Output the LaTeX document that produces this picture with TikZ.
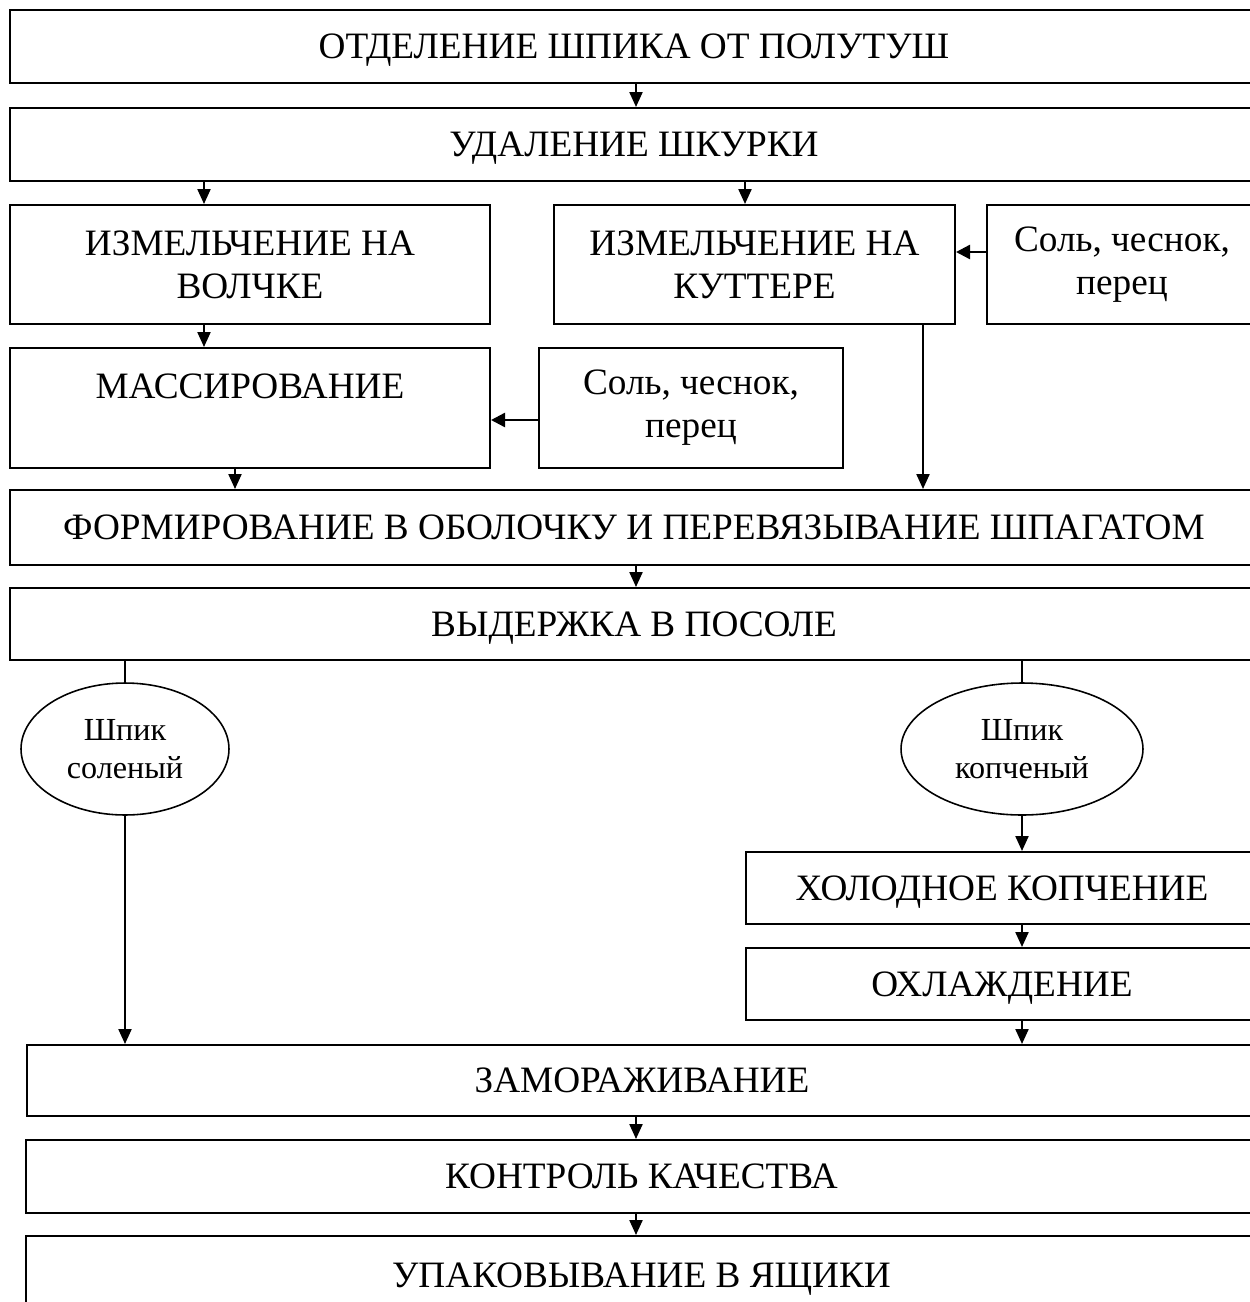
\documentclass[tikz,border=0pt]{standalone}
\usepackage{fontspec}
\setmainfont{Liberation Serif}
\usetikzlibrary{arrows.meta,shapes.geometric}

\begin{document}
\begin{tikzpicture}[x=0.02cm, y=-0.02cm,
  box/.style={draw, line width=1.2pt, align=center, inner sep=0pt,
    font=\fontsize{21.2}{24.5}\selectfont},
  wide/.style={box, text depth=0pt},
  oval/.style={draw, ellipse, line width=0.9pt, align=center, inner sep=0pt,
    font=\fontsize{18.3}{21.5}\selectfont},
  arr/.style={line width=0.9pt, -{Triangle[length=8.5pt,width=7.5pt]}},
  harr/.style={line width=1.4pt, -{Triangle[length=8pt,width=8pt]}},
  ln/.style={line width=0.9pt}]
\clip (0,0) rectangle (1250,1302);
\fill[white] (0,0) rectangle (1250,1302);

% верхние операции
\node[wide, minimum width=24.96cm, minimum height=1.46cm] (otd) at (634,46.5) {ОТДЕЛЕНИЕ ШПИКА ОТ ПОЛУТУШ};
\node[wide, minimum width=24.96cm, minimum height=1.46cm] (ud) at (634,144.5) {УДАЛЕНИЕ ШКУРКИ};

% два пути измельчения
\node[box, minimum width=9.6cm, minimum height=2.38cm] (volch) at (250,264.5) {ИЗМЕЛЬЧЕНИЕ НА\\ ВОЛЧКЕ};
\node[box, minimum width=8.02cm, minimum height=2.38cm] (kut) at (754.5,264.5) {ИЗМЕЛЬЧЕНИЕ НА\\ КУТТЕРЕ};
\node[box, minimum width=5.4cm, minimum height=2.38cm] (salt1) at (1122,264.5) {Соль, чеснок,\\ перец};
\node[box, minimum width=9.6cm, minimum height=2.4cm] (mass) at (250,408) {МАССИРОВАНИЕ\\ \mbox{}};
\node[box, minimum width=6.08cm, minimum height=2.4cm] (salt2) at (691,408) {Соль, чеснок,\\ перец};

\node[wide, minimum width=24.96cm, minimum height=1.5cm] (form) at (634,527.5) {ФОРМИРОВАНИЕ В ОБОЛОЧКУ И ПЕРЕВЯЗЫВАНИЕ ШПАГАТОМ};
\node[wide, minimum width=24.96cm, minimum height=1.44cm] (vyd) at (634,624) {ВЫДЕРЖКА В ПОСОЛЕ};

% виды шпика
\node[oval, minimum width=4.16cm, minimum height=2.64cm] (sol) at (125,749) {Шпик\\ соленый};
\node[oval, minimum width=4.84cm, minimum height=2.64cm] (kop) at (1022,749) {Шпик\\ копченый};

\node[wide, minimum width=10.24cm, minimum height=1.44cm] (hol) at (1002,888) {ХОЛОДНОЕ КОПЧЕНИЕ};
\node[wide, minimum width=10.24cm, minimum height=1.44cm] (ohl) at (1002,984) {ОХЛАЖДЕНИЕ};

% заключительные операции
\node[wide, minimum width=24.6cm, minimum height=1.42cm] (zam) at (642,1080.5) {ЗАМОРАЖИВАНИЕ};
\node[wide, minimum width=24.62cm, minimum height=1.46cm] (kon) at (641.5,1176.5) {КОНТРОЛЬ КАЧЕСТВА};
\node[wide, minimum width=24.62cm, minimum height=1.56cm] (upa) at (641.5,1275) {УПАКОВЫВАНИЕ В ЯЩИКИ};

% стрелки
\draw[arr] (otd.south -| 636,0) -- (ud.north -| 636,0);
\draw[arr] (ud.south -| 204,0) -- (volch.north -| 204,0);
\draw[arr] (ud.south -| 745,0) -- (kut.north -| 745,0);
\draw[harr] (salt1.west |- 0,252) -- (kut.east |- 0,252);
\draw[arr] (volch.south -| 204,0) -- (mass.north -| 204,0);
\draw[harr] (salt2.west |- 0,420) -- (mass.east |- 0,420);
\draw[arr] (mass.south -| 235,0) -- (form.north -| 235,0);
\draw[arr] (kut.south -| 923,0) -- (form.north -| 923,0);
\draw[arr] (form.south -| 636,0) -- (vyd.north -| 636,0);

\draw[ln] (vyd.south -| sol) -- (sol.north);
\draw[ln] (vyd.south -| kop) -- (kop.north);
\draw[arr] (sol.south) -- (zam.north -| sol);
\draw[arr] (kop.south) -- (hol.north -| kop);
\draw[arr] (hol.south -| kop) -- (ohl.north -| kop);
\draw[arr] (ohl.south -| kop) -- (zam.north -| kop);

\draw[arr] (zam.south -| 636,0) -- (kon.north -| 636,0);
\draw[arr] (kon.south -| 636,0) -- (upa.north -| 636,0);
\end{tikzpicture}
\end{document}
